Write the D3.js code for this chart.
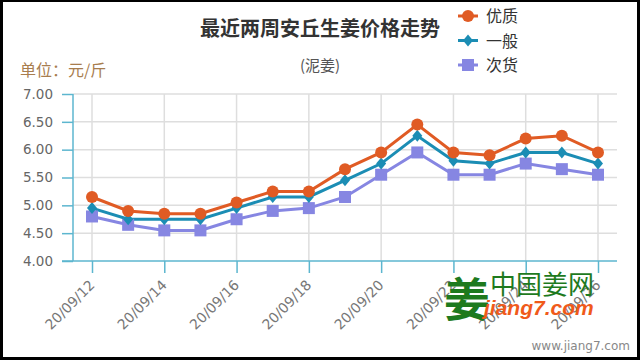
<!DOCTYPE html>
<html>
<head>
<meta charset="utf-8">
<script src="https://cdn.jsdelivr.net/npm/d3@7"></script>
<style>
  html, body { margin: 0; padding: 0; background: #000; }
  svg { display: block; }
  text { font-family: "DejaVu Sans", "Noto Sans CJK SC", sans-serif; }
</style>
</head>
<body>
<script>
var dates = ["20/09/12", "20/09/13", "20/09/14", "20/09/15", "20/09/16", "20/09/17", "20/09/18",
  "20/09/19", "20/09/20", "20/09/21", "20/09/22", "20/09/23", "20/09/24", "20/09/25", "20/09/26"];
var shownTicks = ["20/09/12", "20/09/14", "20/09/16", "20/09/18", "20/09/20", "20/09/22", "20/09/24", "20/09/26"];
var seriesNames = ["优质", "一般", "次货"];
var youzhi = [5.15, 4.90, 4.85, 4.85, 5.05, 5.25, 5.25, 5.65, 5.95, 6.45, 5.95, 5.90, 6.20, 6.25, 5.95];
var yiban = [4.95, 4.75, 4.75, 4.75, 4.95, 5.15, 5.15, 5.45, 5.75, 6.25, 5.80, 5.75, 5.95, 5.95, 5.75];
var cihuo = [4.80, 4.65, 4.55, 4.55, 4.75, 4.90, 4.95, 5.15, 5.55, 5.95, 5.55, 5.55, 5.75, 5.65, 5.55];
var yTicks = [4.00, 4.50, 5.00, 5.50, 6.00, 6.50, 7.00];

var W = 640, H = 360;
var colours = ["#e05b24", "#1b8db4", "#8686e2"];
var axisColour = "#5cb6cf";
var cjk = "'Noto Sans CJK SC', sans-serif";

var svg = d3.select("body").append("svg").attr("width", W).attr("height", H);

// white card inside the black frame
svg.append("rect").attr("x", 3).attr("y", 2).attr("width", W - 6).attr("height", H - 5).attr("fill", "#fff");

var x = d3.scalePoint().domain(dates).range([92, 598]);
var y = d3.scaleLinear().domain([4, 7]).range([261, 94]);
var plotLeft = 73, plotRight = 617;

// grid
var grid = svg.append("g").attr("stroke", "#dedede").attr("stroke-width", 1.5);
grid.selectAll("line.h").data(yTicks.slice(1)).enter().append("line")
  .attr("x1", plotLeft).attr("x2", plotRight)
  .attr("y1", function (d) { return y(d); }).attr("y2", function (d) { return y(d); });
grid.selectAll("line.v").data(shownTicks).enter().append("line")
  .attr("x1", function (d) { return x(d); }).attr("x2", function (d) { return x(d); })
  .attr("y1", y(7)).attr("y2", y(4));

// y axis
var yAxis = svg.append("g").attr("transform", "translate(" + plotLeft + ",0)")
  .call(d3.axisLeft(y).tickValues(yTicks).tickFormat(d3.format(".2f")).tickSize(11).tickPadding(9));
yAxis.select(".domain").remove();
yAxis.selectAll(".tick line").attr("stroke", axisColour).attr("stroke-width", 1.5);
yAxis.selectAll(".tick text").attr("fill", "#666").attr("font-size", 13.5);
svg.append("line").attr("x1", plotLeft).attr("x2", plotLeft).attr("y1", y(7)).attr("y2", y(4))
  .attr("stroke", axisColour).attr("stroke-width", 1.5);

// x axis
var xAxis = svg.append("g").attr("transform", "translate(0," + y(4) + ")")
  .call(d3.axisBottom(x).tickValues(shownTicks).tickSize(12));
xAxis.select(".domain").remove();
xAxis.selectAll(".tick line").attr("stroke", axisColour).attr("stroke-width", 1.5);
xAxis.selectAll(".tick text")
  .attr("fill", "#777").attr("font-size", 14)
  .attr("text-anchor", "end")
  .attr("dy", null).attr("y", 0)
  .attr("transform", "translate(3,25) rotate(-45)");
svg.append("line").attr("x1", 62).attr("x2", plotRight).attr("y1", y(4)).attr("y2", y(4))
  .attr("stroke", axisColour).attr("stroke-width", 1.5);

// series
var series = [youzhi, yiban, cihuo];
var line = d3.line().x(function (d, i) { return x(dates[i]); }).y(function (d) { return y(d); });

function drawMarker(g, kind, colour) {
  if (kind === 0) {
    g.append("circle").attr("r", 6).attr("fill", colour);
  } else if (kind === 1) {
    g.append("path").attr("d", "M0,-6L5,0L0,6L-5,0Z").attr("fill", colour);
  } else {
    g.append("rect").attr("x", -6).attr("y", -6).attr("width", 12).attr("height", 12).attr("fill", colour);
  }
}

series.forEach(function (vals, k) {
  svg.append("path").datum(vals).attr("d", line)
    .attr("fill", "none").attr("stroke", colours[k]).attr("stroke-width", 3);
});
series.slice().reverse().forEach(function (vals, r) {
  var k = series.length - 1 - r;
  vals.forEach(function (v, i) {
    var g = svg.append("g").attr("transform", "translate(" + x(dates[i]) + "," + y(v) + ")");
    drawMarker(g, k, colours[k]);
  });
});

// titles
svg.append("text").attr("x", 320).attr("y", 36).attr("text-anchor", "middle")
  .attr("font-size", 20).attr("font-weight", "bold").attr("fill", "#333")
  .style("font-family", cjk)
  .text("最近两周安丘生姜价格走势");
svg.append("text").attr("x", 320).attr("y", 71).attr("text-anchor", "middle")
  .attr("font-size", 15).attr("fill", "#555")
  .style("font-family", cjk)
  .text("(泥姜)");
svg.append("text").attr("x", 20).attr("y", 76)
  .attr("font-size", 16).attr("fill", "#a87d4e")
  .style("font-family", cjk)
  .text("单位：元/斤");

// legend
seriesNames.forEach(function (name, k) {
  var ly = 16 + k * 24.5;
  svg.append("line").attr("x1", 458).attr("x2", 478).attr("y1", ly).attr("y2", ly)
    .attr("stroke", colours[k]).attr("stroke-width", 3);
  var g = svg.append("g").attr("transform", "translate(468," + ly + ")");
  drawMarker(g, k, colours[k]);
  svg.append("text").attr("x", 486).attr("y", ly + 6)
    .attr("font-size", 16).attr("fill", "#333")
    .style("font-family", cjk)
    .text(name);
});

// watermark
svg.append("text").attr("x", 444).attr("y", 316)
  .attr("font-size", 46).attr("font-weight", "bold").attr("fill", "#1e7a1e")
  .style("font-family", cjk)
  .text("姜");
svg.append("text").attr("x", 490).attr("y", 294)
  .attr("font-size", 26).attr("fill", "#1e7a1e")
  .style("font-family", cjk)
  .text("中国姜网");
svg.append("text").attr("x", 484).attr("y", 315)
  .attr("font-size", 21).attr("font-weight", "bold").attr("font-style", "italic").attr("fill", "#f05a1a")
  .style("font-family", "'Liberation Sans', sans-serif")
  .text("jiang7.com");
svg.append("text").attr("x", 630).attr("y", 350).attr("text-anchor", "end")
  .attr("font-size", 12).attr("fill", "#888")
  .text("www.jiang7.com");
</script>
</body>
</html>
